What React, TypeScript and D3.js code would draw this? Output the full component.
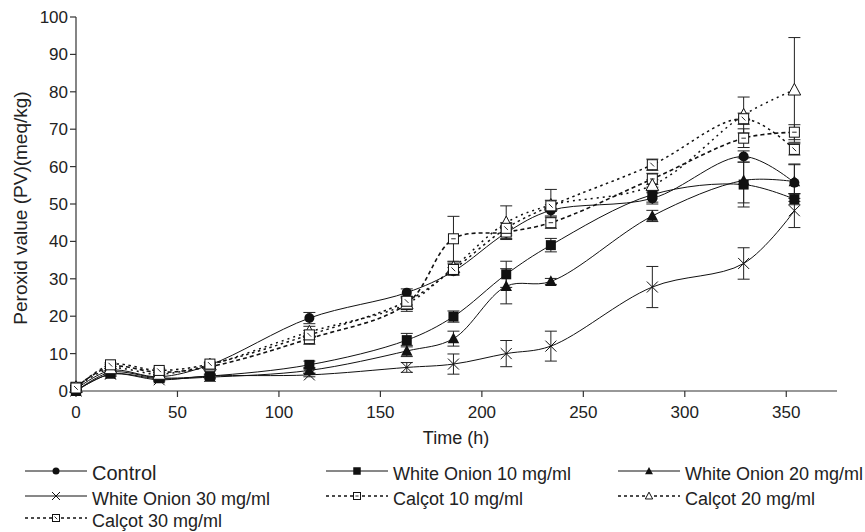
import React from 'react';
import * as d3 from 'd3';

// Sampling times (h)
const times = [0, 17, 41, 66, 115, 163, 186, 212, 234, 284, 329, 354];

// Peroxide values (meq/kg) and error bars
const control = [0.5, 5.5, 3.8, 7, 19.5, 26.3, 32, 42.3, 48.3, 51.5, 62.7, 55.7];
const controlErr = [0.4, 0.5, 0.5, 0.5, 1.5, 1, 1, 1.5, 1.5, 1.5, 1.5, 5];

const whiteOnion10 = [0, 5, 3.5, 4, 7, 13.6, 19.9, 31.2, 39, 52.5, 55.2, 51.3];
const whiteOnion10Err = [0.3, 0.5, 0.5, 0.5, 1, 1.8, 1.5, 3.5, 1.8, 2, 6, 1.5];

const whiteOnion20 = [0, 4.5, 3.3, 3.7, 5.5, 10.7, 14, 28, 29.3, 46.8, 56.3, 56];
const whiteOnion20Err = [0.3, 0.5, 0.5, 0.5, 0.8, 1.5, 2, 4.7, 0.8, 1.5, 6, 4.5];

const whiteOnion30 = [0, 4.5, 3, 4, 4.3, 6.3, 7.2, 10, 12, 27.8, 34.1, 48.2];
const whiteOnion30Err = [0.3, 0.5, 0.5, 0.5, 0.5, 1.3, 2.7, 3.5, 4, 5.5, 4.2, 4.5];

const calcot10 = [1, 6.5, 5, 6.5, 14, 23.3, 40.7, 42.5, 45, 56.7, 67.6, 69.2];
const calcot10Err = [0.5, 0.5, 0.5, 0.5, 1.5, 1.5, 6, 1, 1.5, 1.5, 2.5, 2];

const calcot20 = [1, 6, 4.5, 7, 15.8, 23.3, 33, 45, 49.7, 55, 73.8, 80.5];
const calcot20Err = [0.5, 0.5, 0.5, 0.5, 1.5, 2, 1.5, 4.5, 4.2, 1.5, 4.8, 14];

const calcot30 = [0.8, 7, 5.5, 7.2, 15, 24, 32.5, 43.5, 49.5, 60.5, 72.8, 64.6];
const calcot30Err = [0.5, 0.5, 0.5, 0.5, 1.2, 1, 1.5, 1.5, 1.5, 1.5, 1.5, 1.5];

const seriesNames = [
  'Control',
  'White Onion 10 mg/ml',
  'White Onion 20 mg/ml',
  'White Onion 30 mg/ml',
  'Calçot 10 mg/ml',
  'Calçot 20 mg/ml',
  'Calçot 30 mg/ml',
];

const xTicks = [0, 50, 100, 150, 200, 250, 300, 350];
const yTicks = [0, 10, 20, 30, 40, 50, 60, 70, 80, 90, 100];

const FONT = '"Liberation Sans", Arial, Helvetica, sans-serif';

type MarkerType = 'circle' | 'square' | 'triangle' | 'cross' | 'openSquareH' | 'openTriangle' | 'openSquareD';

function Marker({ type, cx, cy, s }: { type: MarkerType; cx: number; cy: number; s: number }) {
  const h = s / 2;
  switch (type) {
    case 'circle':
      return <circle cx={cx} cy={cy} r={h} fill="#111" />;
    case 'square':
      return <rect x={cx - h} y={cy - h} width={s} height={s} fill="#111" />;
    case 'triangle':
      return (
        <path
          d={`M${cx},${cy - h * 1.1}L${cx + h * 1.05},${cy + h * 0.85}L${cx - h * 1.05},${cy + h * 0.85}Z`}
          fill="#111"
        />
      );
    case 'cross':
      return (
        <g stroke="#111" strokeWidth={1}>
          <line x1={cx - h} y1={cy - h} x2={cx + h} y2={cy + h} />
          <line x1={cx - h} y1={cy + h} x2={cx + h} y2={cy - h} />
        </g>
      );
    case 'openSquareH':
      return (
        <g>
          <rect x={cx - h} y={cy - h} width={s} height={s} fill="#fff" stroke="#111" strokeWidth={1} />
          <line x1={cx - h * 0.45} y1={cy} x2={cx + h * 0.45} y2={cy} stroke="#111" strokeWidth={0.9} />
        </g>
      );
    case 'openSquareD':
      return (
        <g>
          <rect x={cx - h} y={cy - h} width={s} height={s} fill="#fff" stroke="#111" strokeWidth={1} />
          <line x1={cx - h * 0.4} y1={cy - h * 0.4} x2={cx + h * 0.35} y2={cy + h * 0.35} stroke="#111" strokeWidth={0.9} />
        </g>
      );
    case 'openTriangle':
      return (
        <path
          d={`M${cx},${cy - h * 1.1}L${cx + h * 1.05},${cy + h * 0.85}L${cx - h * 1.05},${cy + h * 0.85}Z`}
          fill="#fff"
          stroke="#111"
          strokeWidth={1}
        />
      );
  }
  return null;
}

export default function App() {
  const x = d3.scaleLinear().domain([0, 375]).range([76, 837]);
  const y = d3.scaleLinear().domain([0, 100]).range([391, 17]);

  const series = [
    { name: seriesNames[0], values: control, err: controlErr, marker: 'circle' as MarkerType, size: 10, dash: '', w: 1 },
    { name: seriesNames[1], values: whiteOnion10, err: whiteOnion10Err, marker: 'square' as MarkerType, size: 10, dash: '', w: 1 },
    { name: seriesNames[2], values: whiteOnion20, err: whiteOnion20Err, marker: 'triangle' as MarkerType, size: 11, dash: '', w: 1 },
    { name: seriesNames[3], values: whiteOnion30, err: whiteOnion30Err, marker: 'cross' as MarkerType, size: 11, dash: '', w: 1 },
    { name: seriesNames[4], values: calcot10, err: calcot10Err, marker: 'openSquareH' as MarkerType, size: 10, dash: '4,3', w: 1.6 },
    { name: seriesNames[5], values: calcot20, err: calcot20Err, marker: 'openTriangle' as MarkerType, size: 12, dash: '2,4', w: 1.5 },
    { name: seriesNames[6], values: calcot30, err: calcot30Err, marker: 'openSquareD' as MarkerType, size: 10, dash: '2.5,3.5', w: 1.5 },
  ];

  const line = d3
    .line<number>()
    .x((_, i) => x(times[i]))
    .y((d) => y(d))
    .curve(d3.curveCatmullRom.alpha(0.5));

  const legendCols = [25, 326, 618];
  const legendRows = [480, 505, 527];
  const legendFont = [20, 18, 18, 18, 18, 18, 18];

  return (
    <svg
      width={865}
      height={532}
      style={{ position: 'absolute', left: 0, top: 0, background: '#fff' }}
      fontFamily={FONT}
    >
      <rect x={0} y={0} width={865} height={532} fill="#fff" />

      {/* axes */}
      <g stroke="#333" strokeWidth={1.2} fill="none">
        <line x1={x(0)} y1={y(0)} x2={x(0)} y2={y(100)} />
        <line x1={x(0)} y1={y(0)} x2={x(375)} y2={y(0)} />
        {yTicks.map((t) => (
          <line key={'yt' + t} x1={x(0) - 6} x2={x(0)} y1={y(t)} y2={y(t)} />
        ))}
        {xTicks.map((t) => (
          <line key={'xt' + t} x1={x(t)} x2={x(t)} y1={y(0)} y2={y(0) + 6} />
        ))}
      </g>
      <g fill="#222" fontSize={17}>
        {yTicks.map((t) => (
          <text key={'yl' + t} x={x(0) - 8} y={y(t)} dy="0.35em" textAnchor="end">
            {t}
          </text>
        ))}
        {xTicks.map((t) => (
          <text key={'xl' + t} x={x(t)} y={418} textAnchor="middle">
            {t}
          </text>
        ))}
      </g>
      <text x={456} y={444} textAnchor="middle" fontSize={18} fill="#222">
        Time (h)
      </text>
      <text
        transform={`translate(27,${(y(0) + y(100)) / 2 + 4}) rotate(-90)`}
        textAnchor="middle"
        fontSize={19}
        fill="#222"
      >
        Peroxid value (PV)(meq/kg)
      </text>

      {/* lines */}
      {series.map((s) => (
        <path
          key={'l' + s.name}
          d={line(s.values) || ''}
          fill="none"
          stroke="#111"
          strokeWidth={s.w}
          strokeDasharray={s.dash || undefined}
        />
      ))}

      {/* error bars */}
      {series.map((s) => (
        <g key={'e' + s.name} stroke="#222" strokeWidth={1}>
          {s.values.map((v, i) => {
            const cx = x(times[i]);
            const y1 = y(v - s.err[i]);
            const y2 = y(v + s.err[i]);
            return (
              <g key={i}>
                <line x1={cx} x2={cx} y1={y1} y2={y2} />
                <line x1={cx - 6} x2={cx + 6} y1={y1} y2={y1} />
                <line x1={cx - 6} x2={cx + 6} y1={y2} y2={y2} />
              </g>
            );
          })}
        </g>
      ))}

      {/* markers */}
      {series.map((s) => (
        <g key={'m' + s.name}>
          {s.values.map((v, i) => (
            <Marker key={i} type={s.marker} cx={x(times[i])} cy={y(v)} s={s.size} />
          ))}
        </g>
      ))}

      {/* legend */}
      {series.map((s, k) => {
        const col = k % 3;
        const row = Math.floor(k / 3);
        const x0 = legendCols[col];
        const base = legendRows[row];
        const ly = base - 9;
        const small = s.marker === 'circle' ? 7 : s.marker === 'cross' ? 8 : s.marker.startsWith('open') ? 7 : 7.5;
        return (
          <g key={'lg' + s.name}>
            <line
              x1={x0}
              x2={x0 + 62}
              y1={ly}
              y2={ly}
              stroke="#111"
              strokeWidth={s.dash ? 1.3 : 1}
              strokeDasharray={s.dash ? '3,3' : undefined}
            />
            <Marker type={s.marker} cx={x0 + 31} cy={ly} s={small} />
            <text x={x0 + 67} y={base} fontSize={legendFont[k]} fill="#222">
              {s.name}
            </text>
          </g>
        );
      })}
    </svg>
  );
}
